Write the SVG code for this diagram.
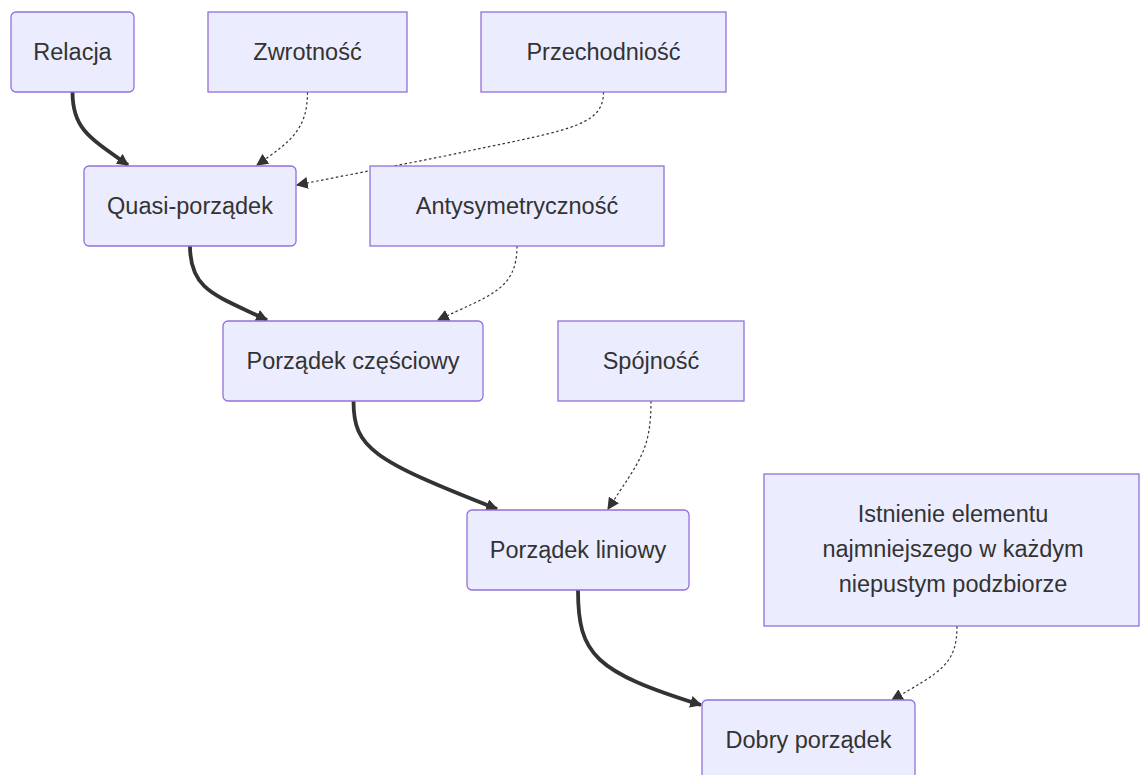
<svg xmlns="http://www.w3.org/2000/svg" width="1140" height="775" viewBox="0 0 1140 775">
<style>
.node rect{fill:#ECECFF;stroke:#9370DB;stroke-width:1.3px}
.node text{font-family:"Liberation Sans",Arial,sans-serif;font-size:23.5px;fill:#333;text-anchor:middle}
.thick{fill:none;stroke:#333;stroke-width:3.8px}
.dot{fill:none;stroke:#333;stroke-width:1.2px;stroke-dasharray:2.5 2.5}
</style>
<defs>
<marker id="arrow" viewBox="0 0 10 10" refX="9" refY="5" markerUnits="userSpaceOnUse" markerWidth="12" markerHeight="12" orient="auto">
<path d="M0,0 L10,5 L0,10 z" fill="#333" stroke="none"/>
</marker>
</defs>
<rect width="1140" height="775" fill="#fff"/>
<g id="edges">
<path class="thick" marker-end="url(#arrow)" d="M72.5,92 C72.5,128 88,137 128,165"/>
<path class="dot" marker-end="url(#arrow)" d="M307.5,92 C307.5,130 290,142 257,165"/>
<path class="dot" marker-end="url(#arrow)" d="M603.5,92 C603.5,128 565,130 445,156 L297,185"/>
<path class="thick" marker-end="url(#arrow)" d="M190,246 C190,290 215,295 267,320"/>
<path class="dot" marker-end="url(#arrow)" d="M517,246 C517,290 490,295 438,320"/>
<path class="thick" marker-end="url(#arrow)" d="M353.5,401 C353.5,448 372,460 497,509"/>
<path class="dot" marker-end="url(#arrow)" d="M651,401 C651,450 640,460 608,509"/>
<path class="thick" marker-end="url(#arrow)" d="M578,590 C578,655 595,672 701,705"/>
<path class="dot" marker-end="url(#arrow)" d="M957,626 C957,665 940,672 892,700"/>
</g>
<g id="relacja" class="node"><rect x="11" y="12" width="123" height="80" rx="5"/><text x="72.5" y="60">Relacja</text></g>
<g id="zwrotnosc" class="node"><rect x="208" y="12" width="199" height="80"/><text x="307.5" y="60">Zwrotność</text></g>
<g id="przechodniosc" class="node"><rect x="481" y="12" width="245" height="80"/><text x="603.5" y="60">Przechodniość</text></g>
<g id="quasi" class="node"><rect x="84" y="166" width="212" height="80" rx="5"/><text x="190" y="214">Quasi-porządek</text></g>
<g id="antysymetrycznosc" class="node"><rect x="370" y="166" width="294" height="80"/><text x="517" y="214">Antysymetryczność</text></g>
<g id="czesciowy" class="node"><rect x="223" y="321" width="260" height="80" rx="5"/><text x="353" y="369">Porządek częściowy</text></g>
<g id="spojnosc" class="node"><rect x="558" y="321" width="186" height="80"/><text x="651" y="369">Spójność</text></g>
<g id="liniowy" class="node"><rect x="467" y="510" width="222" height="80" rx="5"/><text x="578" y="558">Porządek liniowy</text></g>
<g id="istnienie" class="node"><rect x="764" y="474" width="375" height="152"/><text x="953" y="522">Istnienie elementu</text><text x="953" y="557">najmniejszego w każdym</text><text x="953" y="592">niepustym podzbiorze</text></g>
<g id="dobry" class="node"><rect x="702" y="700" width="213" height="80" rx="5"/><text x="808.5" y="748">Dobry porządek</text></g>
</svg>
